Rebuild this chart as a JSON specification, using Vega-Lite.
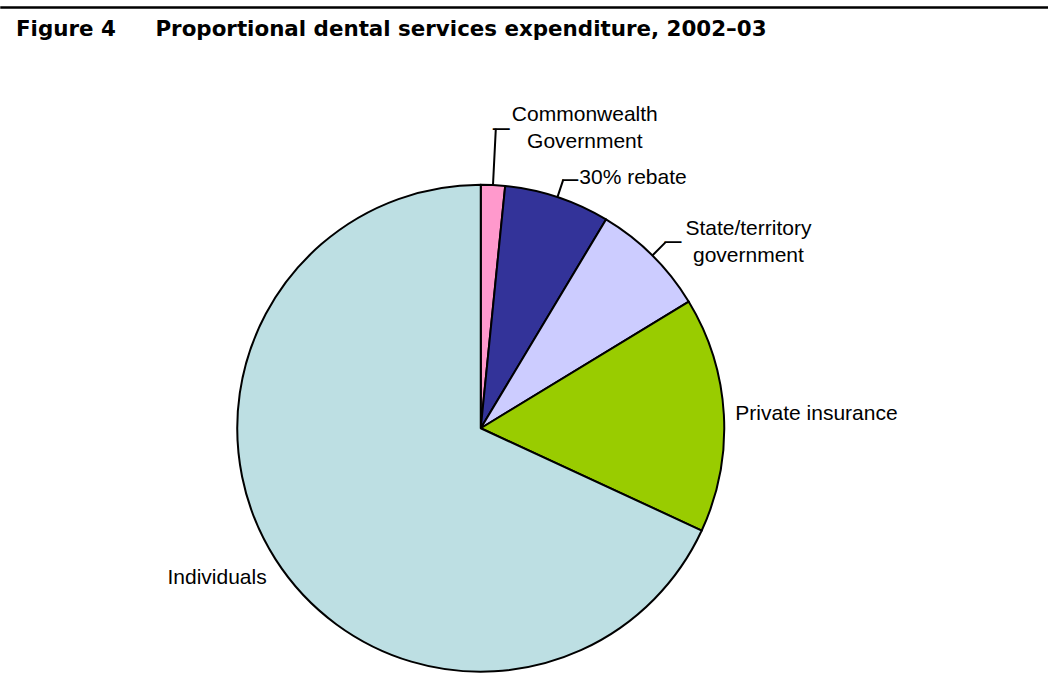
{
  "$schema": "https://vega.github.io/schema/vega-lite/v6.json",
  "background": "white",
  "padding": {"top": 6, "left": 0, "right": 0, "bottom": 0},
  "bounds": "flush",
  "spacing": 164.25,
  "config": {
    "view": {"stroke": null},
    "text": {"font": "Liberation Sans", "fontSize": 21, "color": "#000000"}
  },
  "vconcat": [
    {
      "width": 1048,
      "height": 1,
      "view": {"stroke": "#000000", "strokeWidth": 1.5},
      "data": {"values": []},
      "mark": {"type": "text", "text": "", "fontSize": 0},
      "encoding": {},
      "title": {
        "text": "Figure 4\u2003\u2002 Proportional dental services expenditure, 2002–03",
        "orient": "bottom",
        "anchor": "start",
        "frame": "group",
        "dx": 15,
        "offset": 11.4,
        "font": "DejaVu Sans",
        "fontSize": 21.4,
        "fontWeight": "bold",
        "color": "#000000"
      }
    },
    {
      "width": 959.5,
      "height": 512,
      "view": {"stroke": null},
      "data": {
        "values": [
          {"source": "Commonwealth Government", "share": 1.6},
          {"source": "30% rebate", "share": 7.0},
          {"source": "State/territory government", "share": 7.7},
          {"source": "Private insurance", "share": 15.6},
          {"source": "Individuals", "share": 68.1}
        ]
      },
      "transform": [
        {"window": [{"op": "row_number", "as": "seq"}]},
        {"stack": "share", "groupby": [], "sort": [{"field": "seq", "order": "ascending"}], "as": ["s0", "s1"]}
      ],
      "layer": [
        {
          "mark": {"type": "arc", "radius": 243.5, "stroke": "#000000", "strokeWidth": 2, "strokeJoin": "round"},
          "encoding": {
            "theta": {"field": "s0", "type": "quantitative", "stack": null, "scale": {"domain": [0, 100], "zero": true, "nice": false}},
            "theta2": {"field": "s1"},
            "fill": {
              "field": "source",
              "type": "nominal",
              "legend": null,
              "scale": {
                "domain": ["Commonwealth Government", "30% rebate", "State/territory government", "Private insurance", "Individuals"],
                "range": ["#FF99CC", "#333399", "#CCCCFF", "#99CC00", "#BDDFE3"]
              }
            }
          }
        },
        {
          "transform": [
            {"fold": ["s0", "s1"], "as": ["edge", "pos"]},
            {"aggregate": [{"op": "mean", "field": "pos", "as": "mid"}], "groupby": ["source"]}
          ],
          "layer": [
            {
              "transform": [{"filter": {"field": "source", "equal": "Commonwealth Government"}}],
              "mark": {"type": "arc", "radius": 300, "radius2": 243.5, "filled": false, "stroke": "#000000", "strokeWidth": 2},
              "encoding": {
                "theta": {"field": "mid", "type": "quantitative", "stack": null},
                "theta2": {"field": "mid"}
              }
            },
            {
              "transform": [{"filter": {"field": "source", "equal": "Commonwealth Government"}}],
              "mark": {"type": "text", "radius": 300, "align": "left", "baseline": "alphabetic", "dx": -3, "dy": 5, "fontSize": 17, "fontWeight": "bold", "text": "—"},
              "encoding": {"theta": {"field": "mid", "type": "quantitative", "stack": null}}
            },
            {
              "transform": [{"filter": {"field": "source", "equal": "Commonwealth Government"}}],
              "mark": {"type": "text", "radius": 300, "align": "center", "baseline": "middle", "dx": 89, "dy": -13.5, "lineBreak": " ", "lineHeight": 26.5},
              "encoding": {
                "theta": {"field": "mid", "type": "quantitative", "stack": null},
                "text": {"field": "source", "type": "nominal"}
              }
            },
            {
              "transform": [{"filter": {"field": "source", "equal": "30% rebate"}}],
              "mark": {"type": "arc", "radius": 262, "radius2": 243.5, "filled": false, "stroke": "#000000", "strokeWidth": 2},
              "encoding": {
                "theta": {"field": "mid", "type": "quantitative", "stack": null},
                "theta2": {"field": "mid"}
              }
            },
            {
              "transform": [{"filter": {"field": "source", "equal": "30% rebate"}}],
              "mark": {"type": "text", "radius": 262, "align": "left", "baseline": "alphabetic", "dx": -1, "dy": 5, "fontSize": 16, "fontWeight": "bold", "text": "—"},
              "encoding": {"theta": {"field": "mid", "type": "quantitative", "stack": null}}
            },
            {
              "transform": [{"filter": {"field": "source", "equal": "30% rebate"}}],
              "mark": {"type": "text", "radius": 262, "align": "left", "baseline": "middle", "dx": 16, "dy": -1.5},
              "encoding": {
                "theta": {"field": "mid", "type": "quantitative", "stack": null},
                "text": {"field": "source", "type": "nominal"}
              }
            },
            {
              "transform": [{"filter": {"field": "source", "equal": "State/territory government"}}],
              "mark": {"type": "arc", "radius": 262, "radius2": 243.5, "filled": false, "stroke": "#000000", "strokeWidth": 2},
              "encoding": {
                "theta": {"field": "mid", "type": "quantitative", "stack": null},
                "theta2": {"field": "mid"}
              }
            },
            {
              "transform": [{"filter": {"field": "source", "equal": "State/territory government"}}],
              "mark": {"type": "text", "radius": 262, "align": "left", "baseline": "alphabetic", "dx": -1, "dy": 5, "fontSize": 17, "fontWeight": "bold", "text": "—"},
              "encoding": {"theta": {"field": "mid", "type": "quantitative", "stack": null}}
            },
            {
              "transform": [{"filter": {"field": "source", "equal": "State/territory government"}}],
              "mark": {"type": "text", "radius": 262, "align": "center", "baseline": "middle", "dx": 83, "dy": -13, "lineBreak": " ", "lineHeight": 26.5},
              "encoding": {
                "theta": {"field": "mid", "type": "quantitative", "stack": null},
                "text": {"field": "source", "type": "nominal"}
              }
            },
            {
              "transform": [{"filter": {"field": "source", "equal": "Private insurance"}}],
              "mark": {"type": "text", "radius": 255, "align": "left", "baseline": "middle", "dy": 0.5},
              "encoding": {
                "theta": {"field": "mid", "type": "quantitative", "stack": null},
                "text": {"field": "source", "type": "nominal"}
              }
            },
            {
              "transform": [{"filter": {"field": "source", "equal": "Individuals"}}],
              "mark": {"type": "text", "radius": 254, "align": "right", "baseline": "middle", "dy": 12.5},
              "encoding": {
                "theta": {"field": "mid", "type": "quantitative", "stack": null},
                "text": {"field": "source", "type": "nominal"}
              }
            }
          ]
        }
      ]
    }
  ]
}
